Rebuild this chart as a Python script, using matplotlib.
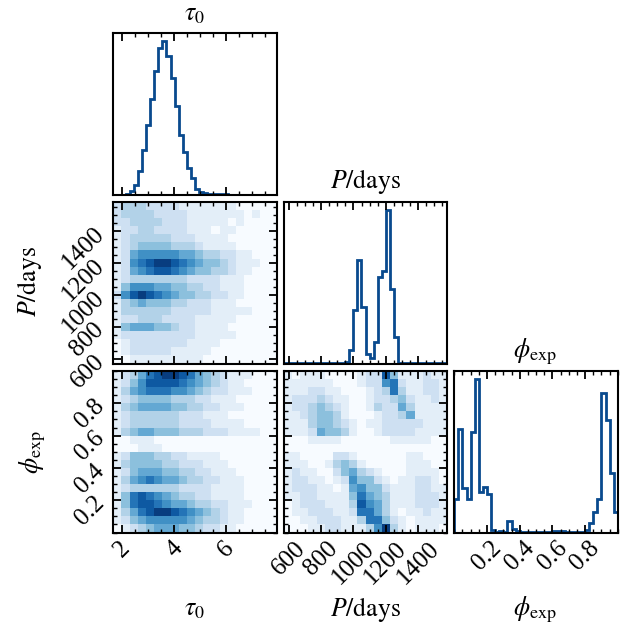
import numpy as np
import matplotlib
matplotlib.use("Agg")
import matplotlib.pyplot as plt
from matplotlib.ticker import MultipleLocator, AutoMinorLocator

plt.rcParams.update({
    "font.family": "serif",
    "font.serif": ["Liberation Serif", "DejaVu Serif"],
    "mathtext.fontset": "stix",
    "font.size": 18,
})

# parameter ranges
tau_range = [1.65, 7.95]
p_range = [570, 1580]
phi_range = [0.0, 1.0]

# tick positions
tau_ticks = [2, 4, 6]
p_ticks = [600, 800, 1000, 1200, 1400]
phi_ticks = [0.2, 0.4, 0.6, 0.8]

# 1D marginal histograms, 40 bins each (relative heights)
tau_hist = [0, 0, 0, 5, 20, 60, 155, 290, 450, 620, 800, 950, 1000, 900, 755,
            575, 390, 275, 170, 110, 35, 17, 10, 6, 4, 2, 1, 1, 0, 0,
            0, 0, 0, 0, 0, 0, 0, 0, 0, 0]
p_hist = [2, 2, 3, 2, 3, 3, 4, 3, 6, 5, 3, 3, 3, 3, 4, 10, 88, 350, 676, 365,
          60, 37, 140, 560, 600, 1000, 486, 175, 4, 2, 2, 1, 1, 2, 1, 1, 1, 1, 1, 1]
phi_hist = [216, 673, 288, 216, 651, 1000, 266, 298, 250, 15, 4, 10, 4, 76, 26,
            10, 4, 4, 4, 4, 4, 4, 4, 4, 10, 10, 10, 6, 6, 6, 6, 6, 15, 63, 133,
            216, 908, 734, 386, 135]

# 2D densities, 20x20, rows from top (high y) to bottom, shade 0-9
tau_p_grid = [
    "23332222111111100000",
    "23333222211111110100",
    "22333322211111010000",
    "12233222211101100000",
    "12333332221111000000",
    "12344443332111100000",
    "12566666554332211000",
    "12678998765443211100",
    "12567887654433211000",
    "12333333322221110000",
    "14666554433221110000",
    "26898765443322110000",
    "13454443322211100000",
    "13333332222211111000",
    "12233322221111100000",
    "14555443221111000000",
    "12222222221111100000",
    "01222222211110000000",
    "01222221111100000000",
    "00111111111000000000",
]
tau_phi_grid = [
    "12357899875432111000",
    "12468888765432110000",
    "13567776654322111000",
    "12344443332211100000",
    "13455554433221110000",
    "12333333222111000000",
    "12333333222211110000",
    "13455444333222111100",
    "00111000000000000000",
    "00011100000000000000",
    "12444332211110000000",
    "13444433222111000000",
    "12455544332211100000",
    "13567655433221110000",
    "12333333222211110000",
    "14787654332211110000",
    "14788765543322111000",
    "13578998765432110000",
    "12456666654332110000",
    "01234555443221100000",
]
p_phi_grid = [
    "10111000012284111211",
    "11111100012267211221",
    "11122110001237311221",
    "12223211001223421121",
    "12234321001322531111",
    "11234431000122351111",
    "11134432101122222111",
    "11125443100122221111",
    "00011110000001111100",
    "00000000000000000000",
    "11000022100000011000",
    "11100134310000011100",
    "12110024532100011110",
    "12211012644210112210",
    "12221101564421112211",
    "11221111475431112221",
    "01222111386531112221",
    "01122211277531011211",
    "00112221137742101111",
    "00011221113693101110",
]

HIST_COLOR = "#094a8e"
LABELS = [r"$\tau_0$", r"$P/\mathrm{days}$", r"$\phi_{\rm exp}$"]

W, H = 639, 635
LEFT, TOP = 113.3, 33.0
PW, PH = 163.5, 161.5
GX, GY = 7.0, 7.5


def grid_to_array(rows):
    return np.array([[int(c) for c in r] for r in rows][::-1], dtype=float)


def style_axis(ax):
    for sp in ax.spines.values():
        sp.set_linewidth(1.5)
    ax.tick_params(which="both", direction="in", top=True, right=True)
    ax.tick_params(which="major", length=6, width=1.3)
    ax.tick_params(which="minor", length=3, width=1.0)


fig = plt.figure(figsize=(W / 100, H / 100), dpi=100)
axes = {}
for i in range(3):
    for j in range(i + 1):
        x0 = LEFT + j * (PW + GX)
        y0 = TOP + i * (PH + GY)
        axes[i, j] = fig.add_axes([x0 / W, 1 - (y0 + PH) / H, PW / W, PH / H])

ranges = [tau_range, p_range, phi_range]
ticks = [tau_ticks, p_ticks, phi_ticks]
hists = [tau_hist, p_hist, phi_hist]
grids = {(1, 0): tau_p_grid, (2, 0): tau_phi_grid, (2, 1): p_phi_grid}

for i in range(3):
    ax = axes[i, i]
    vals = np.array(hists[i], dtype=float)
    edges = np.linspace(ranges[i][0], ranges[i][1], len(vals) + 1)
    ax.stairs(vals, edges, color=HIST_COLOR, lw=2.0, baseline=0)
    ax.set_ylim(0, 1.05 * vals.max())
    ax.set_yticks([])
    style_axis(ax)
    ax.tick_params(which="both", left=False, right=False)

for (i, j), rows in grids.items():
    ax = axes[i, j]
    z = grid_to_array(rows)
    xe = np.linspace(ranges[j][0], ranges[j][1], z.shape[1] + 1)
    ye = np.linspace(ranges[i][0], ranges[i][1], z.shape[0] + 1)
    ax.pcolormesh(xe, ye, z, cmap="Blues", vmin=0, vmax=9.5)
    ax.set_ylim(ranges[i])
    ax.set_yticks(ticks[i])
    ax.yaxis.set_minor_locator(AutoMinorLocator())
    style_axis(ax)
    if j == 0:
        ax.set_yticklabels([str(t) for t in ticks[i]], rotation=45)
    else:
        ax.set_yticklabels([])

for (i, j), ax in axes.items():
    ax.set_xlim(ranges[j])
    ax.set_xticks(ticks[j])
    ax.xaxis.set_minor_locator(AutoMinorLocator())
    if i < 2:
        ax.set_xticklabels([])
    else:
        ax.set_xticklabels([str(t) for t in ticks[j]], rotation=45)

# titles over the diagonal and outer axis labels
fs = 18.5
fig.text(195 / W, 1 - 15 / H, LABELS[0], ha="center", va="center", fontsize=fs)
fig.text(365 / W, 1 - 182 / H, LABELS[1], ha="center", va="center", fontsize=fs)
fig.text(535 / W, 1 - 352 / H, LABELS[2], ha="center", va="center", fontsize=fs)
fig.text(195 / W, 1 - 610 / H, LABELS[0], ha="center", va="center", fontsize=fs)
fig.text(365 / W, 1 - 610 / H, LABELS[1], ha="center", va="center", fontsize=fs)
fig.text(535 / W, 1 - 610 / H, LABELS[2], ha="center", va="center", fontsize=fs)
fig.text(30 / W, 1 - 282 / H, LABELS[1], ha="center", va="center", fontsize=fs, rotation=90)
fig.text(33 / W, 1 - 452 / H, LABELS[2], ha="center", va="center", fontsize=fs, rotation=90)

fig.savefig("out.png", dpi=100)
